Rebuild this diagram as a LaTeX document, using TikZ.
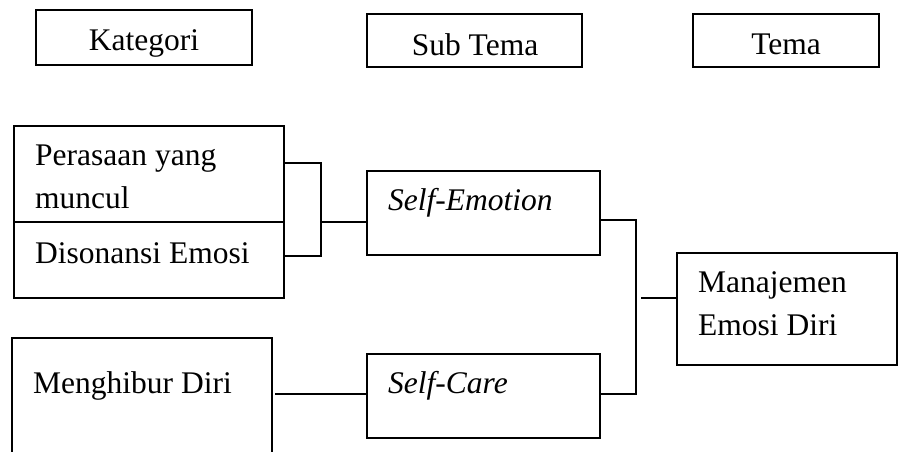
\documentclass[tikz,border=0pt]{standalone}
\usepackage{fontspec}
\setmainfont{Liberation Serif}
\begin{document}
\begin{tikzpicture}[x=1pt,y=-1pt,
  box/.style={draw=black,line width=1.6pt,inner sep=0pt,rectangle},
  txt/.style={inner sep=0pt,align=left,font=\fontsize{31.5}{42.5}\selectfont},
  link/.style={draw=black,line width=1.6pt}]
\useasboundingbox (0,0) rectangle (901,451);
\clip (0,0) rectangle (901,451);

% header row
\node[box,minimum width=216pt,minimum height=55pt] (kat) at (144,37.5) {};
\node[box,minimum width=215pt,minimum height=53pt] (sub) at (474.5,40.5) {};
\node[box,minimum width=186pt,minimum height=53pt] (tema) at (786,40.5) {};
\node[txt,anchor=base] (katT) at (144,50) {Kategori};
\node[txt,anchor=base] (subT) at (475,55) {Sub Tema};
\node[txt,anchor=base] (temaT) at (786,54) {Tema};

% category boxes
\node[box,minimum width=270pt,minimum height=96pt] (per) at (149,174) {};
\node[box,minimum width=270pt,minimum height=76pt] (dis) at (149,260) {};
\node[box,minimum width=260pt,minimum height=132pt] (meng) at (142,404) {};
% multi-line nodes: base anchor sits on the last line
\node[txt,anchor=base west] (perT) at (35,208) {Perasaan yang\\muncul};
\node[txt,anchor=base west] (disT) at (35,263) {Disonansi Emosi};
\node[txt,anchor=base west] (mengT) at (33,393) {Menghibur Diri};

% sub-theme boxes
\node[box,minimum width=233pt,minimum height=84pt] (seE) at (483.5,213) {};
\node[box,minimum width=233pt,minimum height=84pt] (seC) at (483.5,396) {};
\node[txt,anchor=base west] (seET) at (388,210) {\itshape Self-Emotion};
\node[txt,anchor=base west] (seCT) at (388,393) {\itshape Self-Care};

% theme box
\node[box,minimum width=220pt,minimum height=112pt] (man) at (787,309) {};
\node[txt,anchor=base west] (manT) at (698,335) {Manajemen\\Emosi Diri};

% bracket joining the two categories
\coordinate (b1) at (321,163);
\coordinate (b2) at (321,256);
\coordinate (b3) at (321,222);
\draw[link] (b1 -| per.east) -- (b1) -- (b2) -- (b2 -| dis.east);
\draw[link] (b3) -- (b3 -| seE.west);

% single category to Self-Care
\coordinate (m1) at (275,394);
\draw[link] (m1) -- (m1 -| seC.west);

% bracket joining the two sub-themes
\coordinate (r1) at (636,220);
\coordinate (r2) at (636,394);
\coordinate (r3) at (641,298);
\draw[link] (r1 -| seE.east) -- (r1) -- (r2) -- (r2 -| seC.east);
\draw[link] (r3) -- (r3 -| man.west);
\end{tikzpicture}
\end{document}
